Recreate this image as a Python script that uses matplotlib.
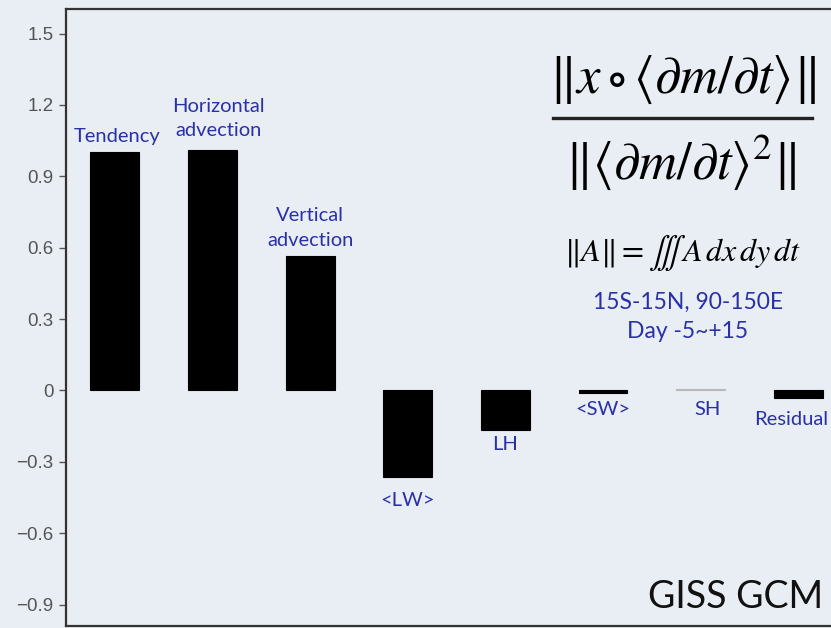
import numpy as np
import matplotlib.pyplot as plt

# budget terms (normalised projection onto <dm/dt>)
terms = ["Tendency", "Horizontal\nadvection", "Vertical\nadvection",
         "<LW>", "LH", "<SW>", "SH", "Residual"]
values = [1.00, 1.01, 0.565, -0.365, -0.165, -0.012, 0.004, -0.03]
bar_colors = ["black"] * 5 + ["black", "#b8b8b8", "black"]

yticks = [-0.9, -0.6, -0.3, 0, 0.3, 0.6, 0.9, 1.2, 1.5]
ytick_labels = ["\u22120.9", "\u22120.6", "\u22120.3", "0", "0.3", "0.6", "0.9", "1.2", "1.5"]

BG = "#e9eef4"
BLUE = "#2a30a8"
W, H = 831, 628

plt.rcParams["mathtext.fontset"] = "stix"

fig = plt.figure(figsize=(W / 100, H / 100), dpi=100, facecolor=BG)
ax = fig.add_axes([66 / W, 2 / H, 1.01 - 66 / W, (626 - 9) / H])
ax.set_facecolor(BG)

x = np.arange(len(terms))
ax.bar(x, values, width=0.5, color=bar_colors, edgecolor=bar_colors, linewidth=0.8)

ax.set_xlim(-0.5, 7.42)
ax.set_ylim(-0.99, 1.603)
ax.set_xticks([])
ax.set_yticks(yticks)
ax.set_yticklabels(ytick_labels, fontsize=13.5, color="#555555", family="Liberation Sans")
ax.tick_params(axis="y", direction="out", length=5, width=1, color="#555555", pad=4)
for s in ax.spines.values():
    s.set_color("#333333")
    s.set_linewidth(1.6)

# bar labels: (x offset, y position) for each term
pos_labels = {0: (0.02, 1.03), 1: (0.06, 1.055), 2: (0, 0.595)}
for i, (dx, y) in pos_labels.items():
    ax.text(i + dx, y, terms[i], ha="center", va="bottom", color=BLUE,
            fontsize=14.5, family="Lato", linespacing=1.55)
neg_labels = {3: (0, -0.425), 4: (0, -0.19), 5: (0, -0.045), 6: (0.07, -0.045), 7: (-0.07, -0.085)}
for i, (dx, y) in neg_labels.items():
    ax.text(i + dx, y, terms[i], ha="center", va="top", color=BLUE, fontsize=14.5, family="Lato")

# formula on the right
def fx(px):
    return px / W

def fy(py):
    return 1 - py / H

fig.text(fx(682), fy(80), r"$\Vert x\circ\langle\partial m/\partial t\rangle\Vert$",
         ha="center", va="center", fontsize=38)
fig.add_artist(plt.Line2D([fx(553), fx(812)], [fy(118), fy(118)], color="#222222", lw=2.4))
fig.text(fx(681), fy(162), r"$\Vert\langle\partial m/\partial t\rangle^{2}\Vert$",
         ha="center", va="center", fontsize=38)
fig.text(fx(683), fy(253), r"$\Vert A\Vert = \iiint\, A\,dx\,dy\,dt$",
         ha="center", va="center", fontsize=23)
fig.text(fx(688), fy(302), "15S-15N, 90-150E", ha="center", va="center",
         color=BLUE, fontsize=16.5, family="Lato")
fig.text(fx(688), fy(331), "Day -5~+15", ha="center", va="center",
         color=BLUE, fontsize=16.5, family="Lato")

fig.text(fx(823), fy(597), "GISS GCM", ha="right", va="center",
         color="#111111", fontsize=27, family="Lato")

fig.savefig("out.png", dpi=100, facecolor=BG)
